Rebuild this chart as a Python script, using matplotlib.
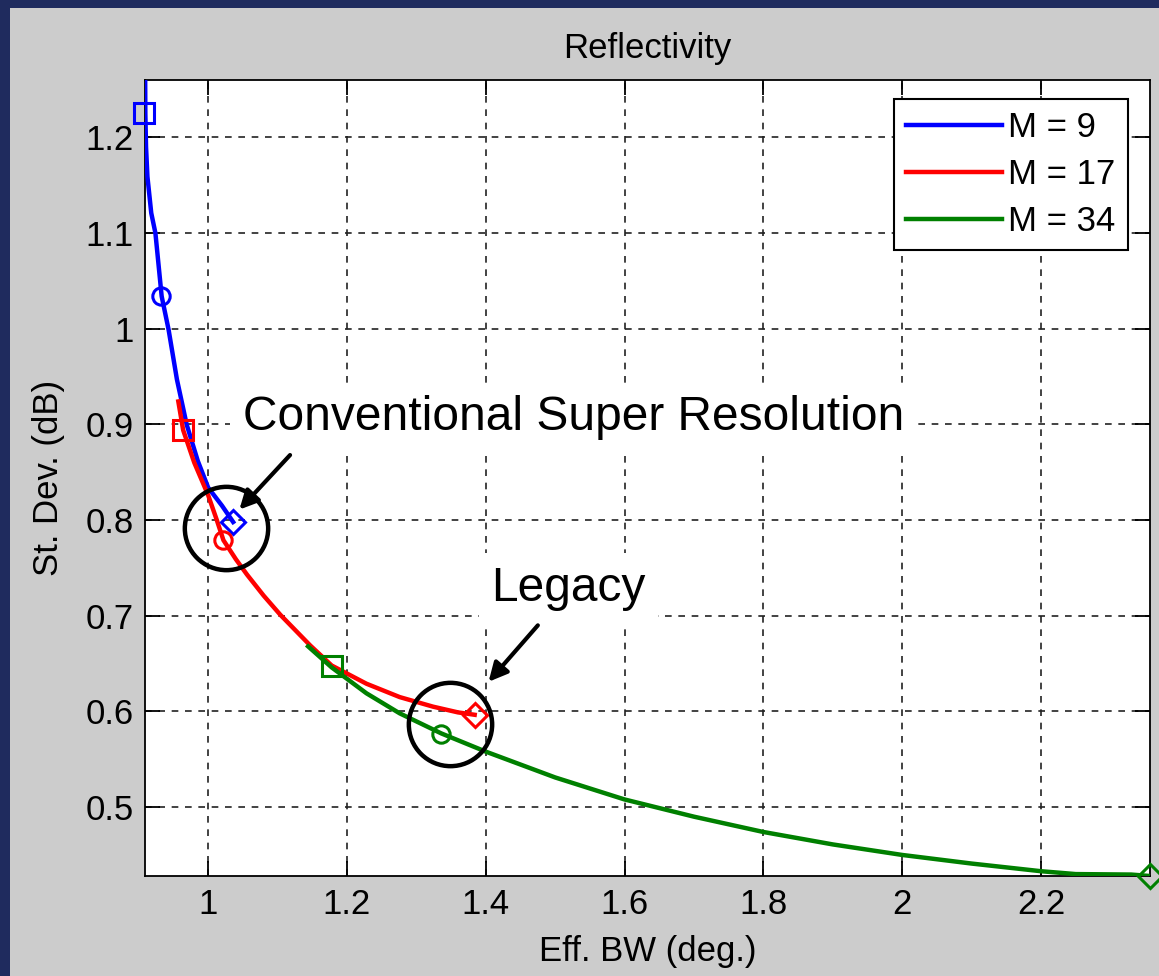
import matplotlib
matplotlib.use('Agg')
import matplotlib.pyplot as plt
from matplotlib.patches import Rectangle
from matplotlib.ticker import FormatStrFormatter

plt.rcParams['font.family'] = ['Liberation Sans', 'DejaVu Sans']

# curves (Eff. BW in deg, St. Dev. in dB)
m9_x = [0.909, 0.9095, 0.9105, 0.9125, 0.918, 0.924, 0.933, 0.943, 0.955, 0.969, 0.985, 1.0, 1.02, 1.036]
m9_y = [1.30, 1.225, 1.19, 1.159, 1.121, 1.10, 1.034, 0.999, 0.947, 0.90, 0.862, 0.834, 0.815, 0.798]

m17_x = [0.957, 0.964, 0.980, 1.0, 1.012, 1.022, 1.040, 1.056, 1.080, 1.104, 1.147, 1.178,
         1.228, 1.276, 1.324, 1.360, 1.384]
m17_y = [0.924, 0.894, 0.860, 0.826, 0.801, 0.779, 0.759, 0.743, 0.721, 0.701, 0.669, 0.648,
         0.629, 0.615, 0.605, 0.599, 0.5965]

m34_x = [1.144, 1.178, 1.228, 1.276, 1.336, 1.40, 1.50, 1.60, 1.70, 1.80, 1.90, 2.00, 2.10,
         2.20, 2.25, 2.33, 2.357]
m34_y = [0.668, 0.646, 0.619, 0.598, 0.577, 0.558, 0.531, 0.508, 0.490, 0.474, 0.461, 0.450,
         0.441, 0.433, 0.430, 0.4295, 0.428]

# marked points on each curve: square, circle, diamond
m9_mk_x = [0.908, 0.932, 1.036]
m9_mk_y = [1.2255, 1.0345, 0.798]
m17_mk_x = [0.964, 1.021, 1.384]
m17_mk_y = [0.894, 0.779, 0.5965]
m34_mk_x = [1.178, 1.336, 2.357]
m34_mk_y = [0.647, 0.576, 0.428]
mk_shapes = ['s', 'o', 'D']
mk_sizes = [14, 12.5, 12]

series = [
    ('M = 9', m9_x, m9_y, m9_mk_x, m9_mk_y, '#0000ff'),
    ('M = 17', m17_x, m17_y, m17_mk_x, m17_mk_y, '#ff0000'),
    ('M = 34', m34_x, m34_y, m34_mk_x, m34_mk_y, '#008000'),
]

x_ticks = [1, 1.2, 1.4, 1.6, 1.8, 2, 2.2]
y_ticks = [0.5, 0.6, 0.7, 0.8, 0.9, 1.0, 1.1, 1.2]

# annotation layout (data coords)
csr_text = (1.526, 0.907)
csr_circle = (1.026, 0.792)
csr_arrow_tail, csr_arrow_tip = (1.118, 0.868), (1.045, 0.811)
leg_text = (1.519, 0.729)
leg_circle = (1.348, 0.587)
leg_arrow_tail, leg_arrow_tip = (1.475, 0.690), (1.404, 0.631)

fig = plt.figure(figsize=(11.59, 9.76), dpi=100, facecolor='#1f2b5e')
fig.add_artist(Rectangle((10 / 1159, 0), 1, 1 - 8 / 976, transform=fig.transFigure,
                         facecolor='#cccccc', edgecolor='none', zorder=-10))
ax = fig.add_axes([145 / 1159, 1 - 876 / 976, 1005 / 1159, 796 / 976])
ax.set_facecolor('white')

for label, x, y, mx, my, c in series:
    ax.plot(x, y, color=c, linewidth=3.2, label=label, zorder=3)
    for xi, yi, shp, ms in zip(mx, my, mk_shapes, mk_sizes):
        ax.plot(xi, yi, linestyle='none', marker=shp, markersize=ms, markerfacecolor='none',
                markeredgecolor=c, markeredgewidth=2.2, clip_on=False, zorder=4)

ax.set_xlim(0.909, 2.357)
ax.set_ylim(0.428, 1.26)
ax.set_xticks(x_ticks)
ax.set_yticks(y_ticks)
ax.xaxis.set_major_formatter(FormatStrFormatter('%g'))
ax.yaxis.set_major_formatter(FormatStrFormatter('%g'))
ax.tick_params(direction='in', top=True, right=True, length=11, width=1.3,
               labelsize=25, colors='black')
ax.tick_params(axis='x', pad=9)
ax.tick_params(axis='y', pad=8)
for s in ax.spines.values():
    s.set_linewidth(1.3)
    s.set_color('black')
ax.grid(True, color='#222222', linestyle=(0, (4, 4)), linewidth=1.2)

ax.set_title('Reflectivity', fontsize=25, pad=16)
ax.set_xlabel('Eff. BW (deg.)', fontsize=25)
ax.set_ylabel('St. Dev. (dB)', fontsize=25)
ax.xaxis.set_label_coords(0.5, -0.074)
ax.yaxis.set_label_coords(-0.08, 0.5)

leg = ax.legend(loc='upper right', bbox_to_anchor=(0.978, 0.976), borderaxespad=0, fontsize=25,
                fancybox=False, edgecolor='black', framealpha=1, handlelength=2.75,
                handletextpad=0.2, labelspacing=0.4, borderpad=0.35)
leg.get_frame().set_linewidth(1.5)

ax.text(*csr_text, 'Conventional Super Resolution', fontsize=34.5, ha='center', va='center',
        bbox=dict(facecolor='white', edgecolor='none', pad=9), zorder=5)
ax.text(*leg_text, 'Legacy', fontsize=34.5, ha='center', va='center',
        bbox=dict(facecolor='white', edgecolor='none', pad=9), zorder=5)
for cx, cy in [csr_circle, leg_circle]:
    ax.plot(cx, cy, marker='o', markersize=60, markerfacecolor='none', markeredgecolor='black',
            markeredgewidth=3.2, zorder=6)
for tail, tip in [(csr_arrow_tail, csr_arrow_tip), (leg_arrow_tail, leg_arrow_tip)]:
    ax.annotate('', xy=tip, xytext=tail,
                arrowprops=dict(arrowstyle='-|>', color='black', lw=3, mutation_scale=28,
                                shrinkA=0, shrinkB=0), zorder=6)

fig.savefig('out.png', dpi=100, facecolor=fig.get_facecolor())
